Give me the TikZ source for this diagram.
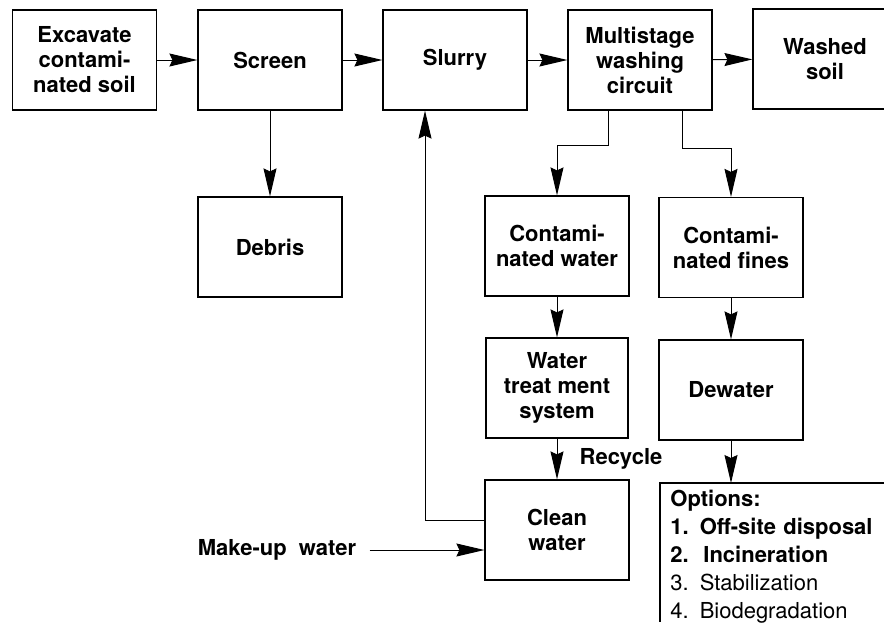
\documentclass[tikz,border=0pt]{standalone}
\usepackage{fontspec}
\setmainfont{TeX Gyre Heros}
\usetikzlibrary{arrows.meta}
\usetikzlibrary{positioning}

\begin{document}
\begin{tikzpicture}[x=0.5pt, y=-0.5pt,
        box/.style={draw, line width=0.6pt, minimum width=72pt, minimum height=50pt,
            inner sep=0pt, align=center, font=\fontsize{11}{12.5}\selectfont\bfseries},
        txt/.style={font=\fontsize{11}{12.5}\selectfont\bfseries},
        arr/.style={-{Stealth[length=14pt, width=6.5pt, inset=1.5pt]}, line width=0.5pt}]
        \clip (0,0) rectangle (884,622);

        % Top row
        \node[box] (exc) at (84.5,60) {Excavate\\contami-\\nated soil};
        \node[box] (scr) at (270,60) {Screen};
        \node[box] (slu) at (455,60) {Slurry};
        \node[box] (mul) at (640,60) {Multistage\\washing\\circuit};
        \node[box] (was) at (825,59) {Washed\\soil};

        \draw[arr] (exc) -- (scr);
        \draw[arr] (scr) -- (slu);
        \draw[arr] (slu) -- (mul);
        \draw[arr] (mul) -- (was);

        % Screen output
        \node[box] (deb) at (270,247) {Debris};
        \draw[arr] (scr) -- (deb);

        % Water branch
        \node[box] (cw) at (557,246) {Contami-\\nated water};
        \node[box, minimum width=71pt] (wt) at (557,388) {Water\\treat ment\\system};
        \node[box] (cln) at (557,530) {Clean\\water};

        % Fines branch
        \node[box] (cf) at (731,247.5) {Contami-\\nated fines};
        \node[box] (dew) at (731,390) {Dewater};

        % Split below washing circuit
        \coordinate (b1) at (608,145);
        \coordinate (b2) at (682,148);
        \draw[arr] (mul.south -| b1) -- (b1) -| (cw.north);
        \draw[arr] (mul.south -| b2) -- (b2) -| (cf.north);

        \draw[arr] (cw) -- (wt);
        \draw[arr] (wt) -- (cln);
        \node[txt] (rec) at (621,459) {Recycle};
        \draw[arr] (cf) -- (dew);

        % Options for fines
        \node[anchor=north west, align=left, text width=105pt, inner xsep=5pt, inner ysep=3.5pt,
            font=\fontsize{11}{14}\selectfont\bfseries] (opt) at (660,483)
            {Options:\\
             1. Off-site disposal\\
             2.\ \ Incineration\\
             {\mdseries 3. Stabilization}\\
             {\mdseries 4. Biodegradation}};
        \draw[line width=0.6pt] (opt.north east) -- (opt.north west) -- (opt.north west |- 0,622);
        \draw[arr] (dew) -- (dew |- opt.north);

        % Recycle loop back to slurry
        \coordinate (r1) at (425,520);
        \draw[arr] (r1 -| cln.west) -- (r1) -- (r1 |- slu.south);

        % Make-up water
        \node[txt, inner xsep=6.5pt] (mk) at (277,550) {Make-up\ \ water};
        \draw[arr] (mk.east) -- (mk.east -| cln.west);

    \end{tikzpicture}
\end{document}
